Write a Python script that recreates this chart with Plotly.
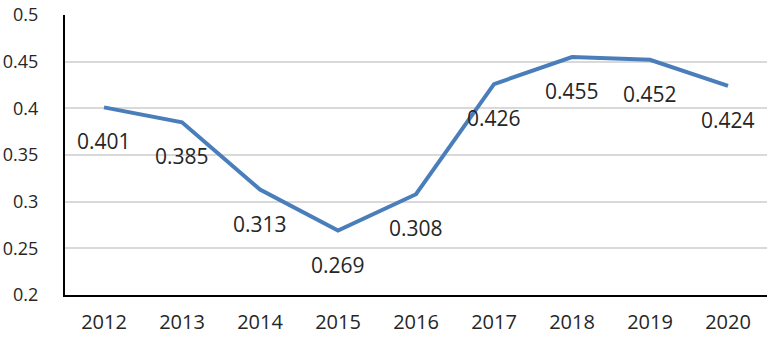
import plotly.graph_objects as go

years = ["2012", "2013", "2014", "2015", "2016", "2017", "2018", "2019", "2020"]
values = [0.401, 0.385, 0.313, 0.269, 0.308, 0.426, 0.455, 0.452, 0.424]
y_ticks = [0.2, 0.25, 0.3, 0.35, 0.4, 0.45, 0.5]
y_tick_text = ["0.2", "0.25", "0.3", "0.35", "0.4", "0.45", "0.5"]

FONT = "Open Sans, Liberation Sans, sans-serif"
TXT = "#262626"

fig = go.Figure()
fig.add_trace(go.Scatter(
    x=years, y=values, mode="lines",
    line=dict(color="#4a7ebb", width=4),
    hoverinfo="skip",
))

for i, v in enumerate(values):
    fig.add_annotation(
        x=i, y=v, text=f"{v:.3f}", showarrow=False,
        yshift=-34, font=dict(family=FONT, size=21, color=TXT),
    )

fig.update_layout(
    width=780, height=341,
    margin=dict(l=65, r=13, t=15, b=46),
    plot_bgcolor="white", paper_bgcolor="white",
    showlegend=False,
    font=dict(family=FONT, size=21, color=TXT),
)
fig.update_xaxes(
    type="category", range=[-0.5, len(years) - 0.5], automargin=False,
    showgrid=False, showline=True, linecolor="black", linewidth=2,
    ticks="", tickfont=dict(family=FONT, size=20, color=TXT), ticklabelstandoff=8,
)
fig.update_yaxes(
    range=[0.2, 0.5], tickvals=y_ticks, ticktext=y_tick_text, automargin=False,
    showgrid=True, gridcolor="#d9d9d9", gridwidth=1.5,
    showline=True, linecolor="black", linewidth=2, zeroline=False,
    ticks="", tickfont=dict(family=FONT, size=18, color=TXT), ticklabelstandoff=21,
)

fig.write_html("out.html", config={"displayModeBar": False},
               post_script="document.body.style.margin='0';")
